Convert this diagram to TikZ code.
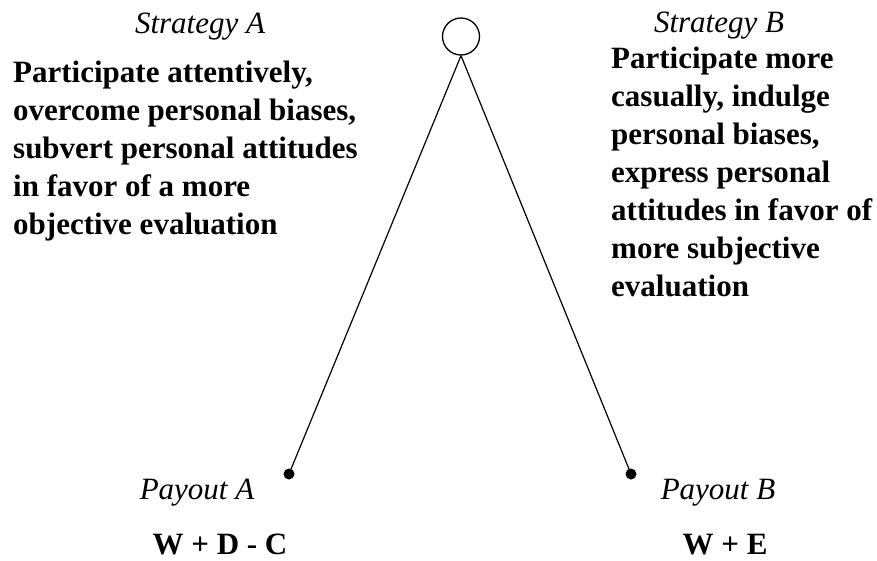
\documentclass[tikz,border=0pt]{standalone}
\usepackage{fontspec}
\setmainfont{Liberation Serif}
\usepackage{tikz}

\begin{document}
\begin{tikzpicture}[x=1pt, y=-1pt]
    \tikzset{
      big/.style={font=\fontsize{31}{38}\selectfont, inner sep=0pt},
      label/.style={big, font=\fontsize{31}{38}\selectfont\itshape, anchor=base},
      choice/.style={big, font=\fontsize{31}{38}\selectfont\bfseries,
        anchor=base west, align=left},
      payoff/.style={big, font=\fontsize{31}{38}\selectfont\bfseries, anchor=base},
      leaf/.style={circle, fill=black, inner sep=0pt, minimum size=11pt}
    }

    \useasboundingbox (0, 0) rectangle (877, 560);

    % The decision node and the two end points
    \node[circle, draw, line width=1.3pt, minimum size=37pt, inner sep=0pt]
      (root) at (461, 36.5) {};
    \node[leaf] (endA) at (289, 474) {};
    \node[leaf] (endB) at (631, 474) {};

    \draw[line width=1.2pt] (root.south) -- (endA.center);
    \draw[line width=1.2pt] (root.south) -- (endB.center);

    % Strategies (anchored at the baseline of the last line)
    \node[label] (stratA) at (200, 33) {Strategy A};
    \node[label] (stratB) at (719, 32) {Strategy B};

    \node[choice] (textA) at (13, 234) {Participate attentively,\\
      overcome personal biases,\\subvert personal attitudes\\
      in favor of a more\\objective evaluation};
    \node[choice] (textB) at (611, 296) {Participate more\\
      casually, indulge\\personal biases,\\express personal\\
      attitudes in favor of\\more subjective\\evaluation};

    % Payouts
    \node[label] (payA) at (197, 499) {Payout A};
    \node[label] (payB) at (718, 499) {Payout B};

    \node[payoff] (valA) at (220, 554) {W + D - C};
    \node[payoff] (valB) at (725, 554) {W + E};
  \end{tikzpicture}
\end{document}
